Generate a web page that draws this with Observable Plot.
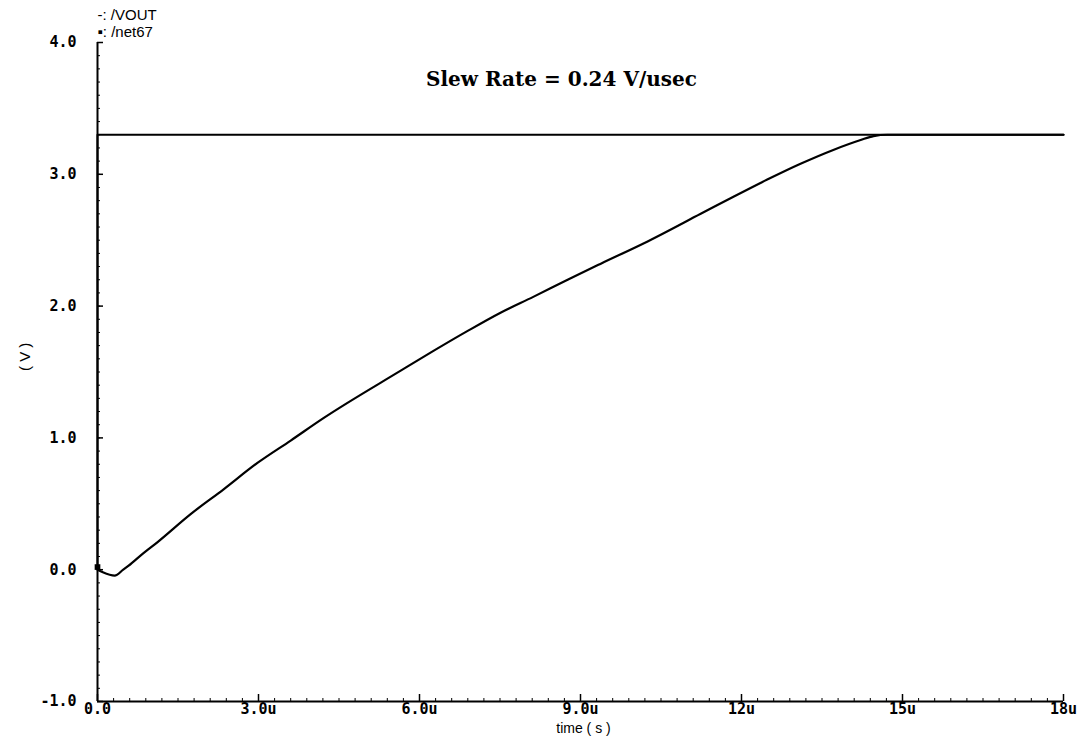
<!DOCTYPE html>
<html><head><meta charset="utf-8">
<script src="https://cdn.jsdelivr.net/npm/d3@7"></script>
<script src="https://cdn.jsdelivr.net/npm/@observablehq/plot@0.6"></script>
<style>body{margin:0;background:#fff}</style>
</head><body><div id="chart"></div>
<script>
// VOUT transient (time in µs, volts)
const voutTime = [0, 0.1, 0.32, 0.48, 0.58, 0.84, 1.12, 1.73, 2.35, 2.98, 3.60, 4.21, 5.65, 6.26, 6.89, 7.51, 8.12, 8.76, 9.37, 10.25, 11.24, 11.85, 12.48, 13.10, 13.71, 14.22, 14.46, 14.72, 18];
const voutVolt = [0.0, -0.02, -0.045, 0.0, 0.03, 0.12, 0.21, 0.42, 0.61, 0.81, 0.98, 1.15, 1.51, 1.66, 1.81, 1.95, 2.07, 2.20, 2.32, 2.49, 2.70, 2.83, 2.96, 3.08, 3.185, 3.26, 3.29, 3.30, 3.30];
// net67 input step
const net67Time = [0, 0, 18];
const net67Volt = [0.02, 3.3, 3.3];

const xTicks = [0, 3, 6, 9, 12, 15, 18];
const xTickLabels = ["0.0", "3.0u", "6.0u", "9.0u", "12u", "15u", "18u"];
const yTicks = [-1, 0, 1, 2, 3, 4];
const yTickLabels = ["-1.0", "0.0", "1.0", "2.0", "3.0", "4.0"];
const xMinor = d3.range(61).map(i => i * 0.3);
const yMinor = d3.range(51).map(i => -1 + i * 0.1);
const legendVout = "-: /VOUT";
const legendNet = "\u25AA: /net67";
const titleText = "Slew Rate = 0.24 V/usec";
const xLabel = "time ( s )";
const yLabel = "( V )";

const vout = voutTime.map((t, i) => ({t, v: voutVolt[i]}));
const net67 = net67Time.map((t, i) => ({t, v: net67Volt[i]}));

const W = 1081, H = 739, mt = 42, mr = 18, mb = 38, ml = 97;
const pw = W - ml - mr, ph = H - mt - mb;
const tickFont = "DejaVu Sans Mono";

const chart = Plot.plot({
  width: W, height: H,
  marginTop: mt, marginRight: mr, marginBottom: mb, marginLeft: ml,
  x: {domain: [0, 18], axis: null},
  y: {domain: [-1, 4], axis: null},
  style: {background: "#fff", color: "#000", fontFamily: "Liberation Sans"},
  marks: [
    Plot.ruleX(xMinor, {x: d => d, insetTop: ph - 3, stroke: "#000", strokeWidth: 1}),
    Plot.ruleX(xTicks, {x: d => d, insetTop: ph - 7, stroke: "#000", strokeWidth: 1.5}),
    Plot.ruleY(yMinor, {y: d => d, insetRight: pw - 3, stroke: "#000", strokeWidth: 1}),
    Plot.ruleY(yTicks, {y: d => d, insetRight: pw - 6, stroke: "#000", strokeWidth: 1.5}),
    Plot.ruleY([-1], {stroke: "#000", strokeWidth: 2}),
    Plot.ruleX([0], {stroke: "#000", strokeWidth: 2}),
    Plot.line(net67, {x: "t", y: "v", stroke: "#000", strokeWidth: 2}),
    Plot.line(vout, {x: "t", y: "v", curve: "monotone-x", stroke: "#000", strokeWidth: 2.2}),
    Plot.dot(net67.slice(0, 1), {x: "t", y: "v", symbol: "square", r: 3.2, fill: "#000", stroke: "none"}),
    Plot.text(xTicks, {x: d => d, text: (d, i) => xTickLabels[i], frameAnchor: "bottom", lineAnchor: "middle", dy: 8, fontFamily: tickFont, fontWeight: "bold", fontSize: 15, fill: "#000"}),
    Plot.text(yTicks, {y: d => d, text: (d, i) => yTickLabels[i], frameAnchor: "left", lineAnchor: "middle", dx: -21, textAnchor: "end", fontFamily: tickFont, fontWeight: "bold", fontSize: 15, fill: "#000"}),
    Plot.text([legendVout], {text: d => d, frameAnchor: "top-left", lineAnchor: "middle", dy: -27, textAnchor: "start", fontSize: 15, fill: "#000"}),
    Plot.text([legendNet], {text: d => d, frameAnchor: "top-left", lineAnchor: "middle", dy: -10, textAnchor: "start", fontSize: 15, fill: "#000"}),
    Plot.text([titleText], {text: d => d, frameAnchor: "top", lineAnchor: "middle", dx: -19, dy: 37, fontFamily: "DejaVu Serif", fontWeight: "bold", fontSize: 20, fill: "#000"}),
    Plot.text([xLabel], {text: d => d, frameAnchor: "bottom", lineAnchor: "middle", dx: 3, dy: 27, fontSize: 14, fill: "#000"}),
    Plot.text([yLabel], {text: d => d, frameAnchor: "left", lineAnchor: "middle", dx: -72, dy: -1, rotate: -90, fontSize: 15, fill: "#000"})
  ]
});
document.getElementById("chart").appendChild(chart);
</script>
</body></html>
